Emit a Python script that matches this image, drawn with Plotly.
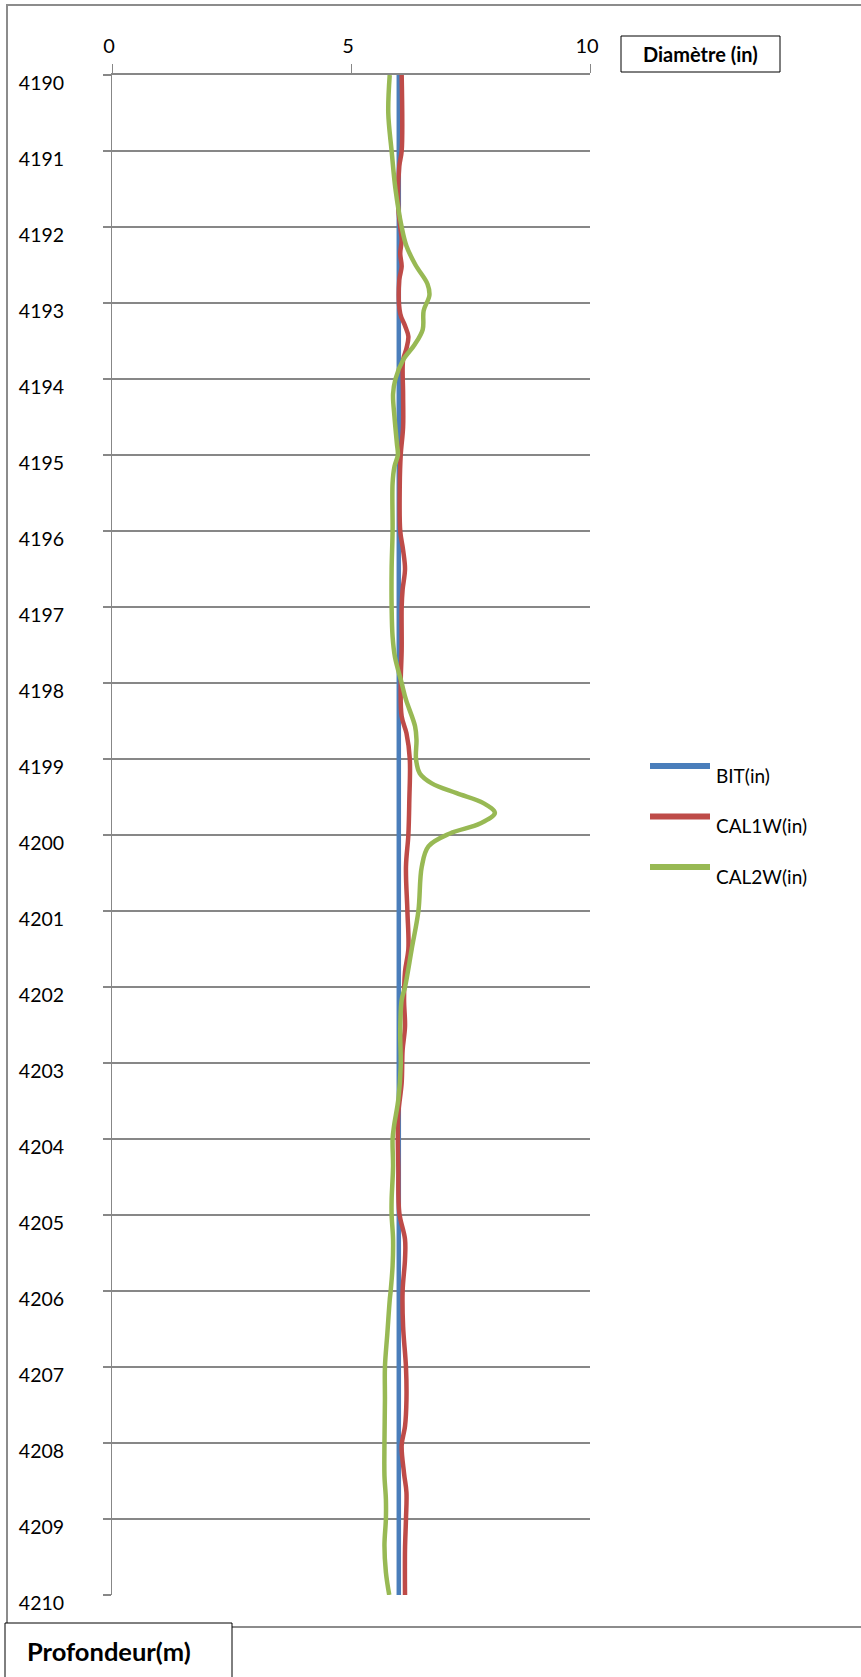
import plotly.graph_objects as go

# Bit size and caliper readings (inches) against depth (m)
bit_depth = [4190, 4210]
bit_in = [6.0, 6.0]

cal1_depth = [4190.0, 4191.0, 4191.2, 4191.75, 4192.0, 4192.17, 4192.35, 4192.52, 4192.7,
              4193.14, 4193.3, 4193.44, 4193.6, 4193.75, 4194.2, 4194.63, 4195.0, 4195.4,
              4196.0, 4196.25, 4196.5, 4196.77, 4197.0, 4197.56, 4198.0, 4198.44, 4198.66,
              4199.0, 4199.54, 4200.0, 4200.42, 4201.0, 4201.5, 4201.8, 4202.17, 4202.52,
              4202.83, 4203.26, 4203.66, 4204.0, 4204.36, 4204.97, 4205.32, 4205.58, 4206.0,
              4206.47, 4207.0, 4207.43, 4207.78, 4208.03, 4208.4, 4208.65, 4209.0, 4209.4,
              4210.0]
cal1_in = [6.06, 6.06, 6.01, 5.99, 6.03, 6.06, 6.03, 6.06, 6.01,
           6.03, 6.13, 6.20, 6.16, 6.09, 6.09, 6.09, 6.04, 6.02,
           6.03, 6.09, 6.13, 6.08, 6.06, 6.06, 6.04, 6.06, 6.16,
           6.23, 6.22, 6.20, 6.15, 6.18, 6.20, 6.13, 6.11, 6.13,
           6.08, 6.06, 5.99, 5.98, 5.99, 6.01, 6.13, 6.13, 6.08,
           6.09, 6.15, 6.16, 6.13, 6.06, 6.11, 6.16, 6.15, 6.13,
           6.13]

cal2_depth = [4190.0, 4190.5, 4191.0, 4191.5, 4192.0, 4192.25, 4192.5, 4192.75, 4192.9,
              4193.1, 4193.35, 4193.55, 4193.75, 4194.0, 4194.2, 4194.5, 4194.85, 4195.0,
              4195.15, 4195.37, 4196.0, 4196.5, 4197.0, 4197.39, 4197.66, 4198.0, 4198.22,
              4198.57, 4198.75, 4199.0, 4199.19, 4199.32, 4199.45, 4199.58, 4199.71, 4199.85,
              4199.98, 4200.15, 4200.42, 4201.0, 4201.5, 4202.0, 4202.17, 4202.6, 4203.04,
              4203.48, 4203.83, 4204.0, 4204.36, 4204.8, 4205.0, 4205.32, 4205.67, 4206.0,
              4206.12, 4206.56, 4207.0, 4207.43, 4208.0, 4208.43, 4208.74, 4209.0, 4209.35,
              4209.7, 4210.0]
cal2_in = [5.81, 5.78, 5.85, 5.93, 6.06, 6.16, 6.35, 6.60, 6.64,
           6.52, 6.50, 6.33, 6.09, 5.93, 5.88, 5.91, 5.96, 5.98,
           5.91, 5.87, 5.87, 5.85, 5.85, 5.87, 5.92, 6.06, 6.15,
           6.34, 6.37, 6.36, 6.44, 6.69, 7.21, 7.77, 8.01, 7.70,
           7.07, 6.62, 6.48, 6.41, 6.27, 6.13, 6.06, 6.03, 6.04,
           5.99, 5.90, 5.87, 5.88, 5.85, 5.85, 5.88, 5.87, 5.83,
           5.81, 5.76, 5.71, 5.71, 5.70, 5.70, 5.73, 5.73, 5.70,
           5.73, 5.80]

series_names = ["BIT(in)", "CAL1W(in)", "CAL2W(in)"]
series_colors = ["#4a7ebb", "#be4b48", "#98b954"]

x_ticks = [0, 5, 10]
depth_ticks = list(range(4190, 4211))

W, H = 861, 1677
L, R, T, B = 112, 271, 75, 82
PW, PH = W - L - R, H - T - B

def px_x(px):
    return (px - L) / PW

def px_y(py):
    return (H - B - py) / PH

FONT = "Lato, Calibri, sans-serif"
GRID = "#878787"

fig = go.Figure()
for name, color, xs, ys in zip(series_names, series_colors,
                               [bit_in, cal1_in, cal2_in],
                               [bit_depth, cal1_depth, cal2_depth]):
    fig.add_trace(go.Scatter(
        x=xs, y=ys, mode="lines", name=name,
        line=dict(color=color, width=4.5, shape="spline", smoothing=1),
        showlegend=False, hoverinfo="skip"))

fig.update_layout(
    width=W, height=H,
    margin=dict(l=L, r=R, t=T, b=B),
    paper_bgcolor="white", plot_bgcolor="white",
    xaxis=dict(range=[0, 10], side="top", tickvals=x_ticks, showgrid=False,
               zeroline=False, showline=True, linecolor=GRID, linewidth=2,
               ticks="outside", ticklen=9, tickwidth=1, tickcolor=GRID,
               ticklabelstandoff=3, ticklabelshift=-3,
               tickfont=dict(family=FONT, size=20, color="#000")),
    yaxis=dict(range=[4210, 4190], tickvals=depth_ticks, showgrid=True,
               gridcolor=GRID, gridwidth=2, zeroline=False,
               showline=True, linecolor=GRID, linewidth=1,
               ticks="outside", ticklen=8, tickwidth=2, tickcolor=GRID,
               ticklabelstandoff=35, ticklabelshift=-8,
               tickfont=dict(family=FONT, size=19.5, color="#000")),
)

shapes = []
annotations = []

# chart frame
shapes.append(dict(type="rect", xref="paper", yref="paper",
                   x0=px_x(7), x1=px_x(880), y0=px_y(1627), y1=px_y(5),
                   line=dict(color="#8c8c8c", width=2), fillcolor="rgba(0,0,0,0)"))

# axis title boxes
shapes.append(dict(type="rect", xref="paper", yref="paper",
                   x0=px_x(621), x1=px_x(780), y0=px_y(72), y1=px_y(36),
                   line=dict(color="#000", width=1), fillcolor="white"))
annotations.append(dict(text="<b>Diamètre (in)</b>", xref="paper", yref="paper",
                        x=px_x(700.5), y=px_y(54), xanchor="center", yanchor="middle",
                        showarrow=False, font=dict(family=FONT, size=20, color="#000")))
shapes.append(dict(type="rect", xref="paper", yref="paper",
                   x0=px_x(5), x1=px_x(232), y0=px_y(1700), y1=px_y(1623),
                   line=dict(color="#000", width=1), fillcolor="white"))
annotations.append(dict(text="<b>Profondeur(m)</b>", xref="paper", yref="paper",
                        x=px_x(25), y=px_y(1651), xanchor="left", yanchor="middle",
                        showarrow=False, font=dict(family=FONT, size=25.5, color="#000")))

# legend
for i, (name, color) in enumerate(zip(series_names, series_colors)):
    ly = 766 + i * 50.5
    shapes.append(dict(type="line", xref="paper", yref="paper",
                       x0=px_x(650), x1=px_x(710), y0=px_y(ly), y1=px_y(ly),
                       line=dict(color=color, width=6)))
    annotations.append(dict(text=name, xref="paper", yref="paper",
                            x=px_x(714), y=px_y(ly + 9), xanchor="left", yanchor="middle",
                            showarrow=False,
                            font=dict(family=FONT, size=19, color="#000")))

fig.update_layout(shapes=shapes, annotations=annotations)
fig.write_html("out.html")
